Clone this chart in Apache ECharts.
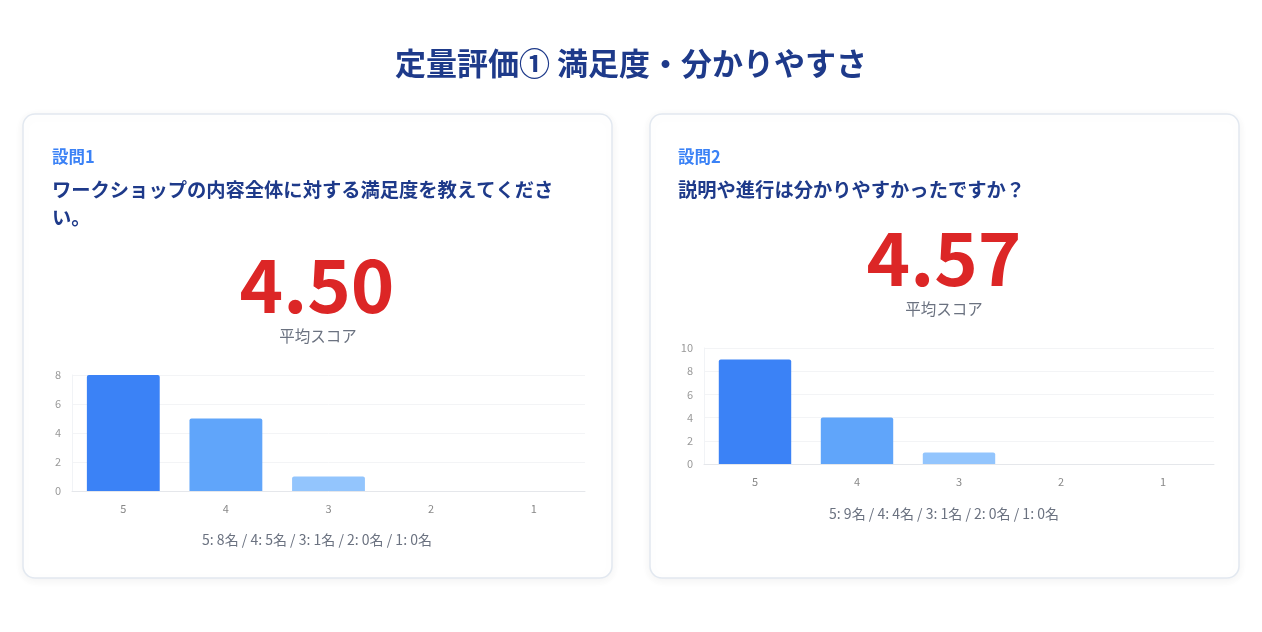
<!DOCTYPE html>
<html><head><meta charset="utf-8">
<script src="https://cdn.jsdelivr.net/npm/echarts@6/dist/echarts.min.js"></script>
<style>html,body{margin:0;padding:0;background:#fff}#c{width:1262px;height:632px}</style>
</head><body><div id="c"></div>
<script>
const pageTitle = '定量評価① 満足度・分かりやすさ';
const categories = ['5', '4', '3', '2', '1'];
const q1Label = '設問1';
const q1Lines = ['ワークショップの内容全体に対する満足度を教えてくださ', 'い。'];
const q1Counts = [8, 5, 1, 0, 0];
const q1Score = '4.50';
const q2Label = '設問2';
const q2Lines = ['説明や進行は分かりやすかったですか？'];
const q2Counts = [9, 4, 1, 0, 0];
const q2Score = '4.57';
const scoreCaption = '平均スコア';
const q1YTicks = [0, 2, 4, 6, 8];
const q2YTicks = [0, 2, 4, 6, 8, 10];

const barColors = ['#3b82f6', '#60a5fa', '#93c5fd', '#bfdbfe', '#dbeafe'];
const FONT = '"Noto Sans CJK JP", "Noto Sans", sans-serif';

function summary(counts) {
  return categories.map((c, i) => c + ': ' + counts[i] + '名').join(' / ');
}

function txt(text, x, y, opts) {
  return {
    type: 'text', z: 10,
    style: Object.assign({
      text: text, x: x, y: y, fontFamily: FONT,
      align: 'left', verticalAlign: 'middle'
    }, opts)
  };
}

function card(x, y, w, h) {
  return {
    type: 'rect', z: 0,
    shape: { x: x, y: y, width: w, height: h, r: 12 },
    style: { fill: '#ffffff', stroke: '#e2e8f0', lineWidth: 1.5,
      shadowBlur: 10, shadowColor: 'rgba(15,23,42,0.06)', shadowOffsetY: 2 }
  };
}

const graphics = [
  card(23, 114, 589, 464),
  card(650, 114, 589, 464),
  txt(pageTitle, 631, 63, { align: 'center', fontSize: 31, fontWeight: 'bold', fill: '#1e3a8a' }),
  // card 1
  txt(q1Label, 52, 157, { fontSize: 16.5, fontWeight: 'bold', fill: '#3b82f6' }),
  txt(q1Lines[0], 52, 190, { fontSize: 19.3, fontWeight: 'bold', fill: '#1e3a8a' }),
  txt(q1Lines[1], 52, 218, { fontSize: 19.3, fontWeight: 'bold', fill: '#1e3a8a' }),
  txt(q1Score, 317, 285, { align: 'center', fontSize: 74, fontWeight: 'bold', fill: '#dc2626' }),
  txt(scoreCaption, 318, 336, { align: 'center', fontSize: 15.5, fill: '#6b7280' }),
  txt(summary(q1Counts), 317, 540, { align: 'center', fontSize: 14, fill: '#6b7280' }),
  // card 2
  txt(q2Label, 678, 157, { fontSize: 16.5, fontWeight: 'bold', fill: '#3b82f6' }),
  txt(q2Lines[0], 678, 190, { fontSize: 19.3, fontWeight: 'bold', fill: '#1e3a8a' }),
  txt(q2Score, 944, 258, { align: 'center', fontSize: 74, fontWeight: 'bold', fill: '#dc2626' }),
  txt(scoreCaption, 944, 309, { align: 'center', fontSize: 15.5, fill: '#6b7280' }),
  txt(summary(q2Counts), 944, 514, { align: 'center', fontSize: 14, fill: '#6b7280' })
];

function xAx(gi) {
  return {
    type: 'category', gridIndex: gi, data: categories,
    axisLine: { show: true, lineStyle: { color: '#e5e7eb', width: 1 } },
    axisTick: { show: false },
    axisLabel: { color: '#888', fontSize: 11, margin: 12, fontFamily: FONT }
  };
}
function yAx(gi, ticks) {
  return {
    type: 'value', gridIndex: gi, min: ticks[0], max: ticks[ticks.length - 1],
    interval: ticks[1] - ticks[0],
    axisLine: { show: true, lineStyle: { color: '#f1f3f6', width: 1 } },
    axisTick: { show: false },
    splitLine: { show: true, lineStyle: { color: '#f3f4f6', width: 1 } },
    axisLabel: { color: '#999', fontSize: 11, margin: 11, fontFamily: FONT }
  };
}
function barSeries(gi, counts) {
  return {
    type: 'bar', xAxisIndex: gi, yAxisIndex: gi, data: counts,
    barWidth: '71%',
    itemStyle: { color: p => barColors[p.dataIndex], borderRadius: [2, 2, 0, 0] },
    silent: true
  };
}

const chart = echarts.init(document.getElementById('c'));
chart.setOption({
  backgroundColor: '#ffffff',
  animation: false,
  textStyle: { fontFamily: FONT },
  grid: [
    { left: 72, right: 1262 - 585, top: 375, bottom: 632 - 491 },
    { left: 704, right: 1262 - 1214, top: 348, bottom: 632 - 464 }
  ],
  xAxis: [xAx(0), xAx(1)],
  yAxis: [yAx(0, q1YTicks), yAx(1, q2YTicks)],
  series: [barSeries(0, q1Counts), barSeries(1, q2Counts)],
  graphic: graphics
});
</script></body></html>
